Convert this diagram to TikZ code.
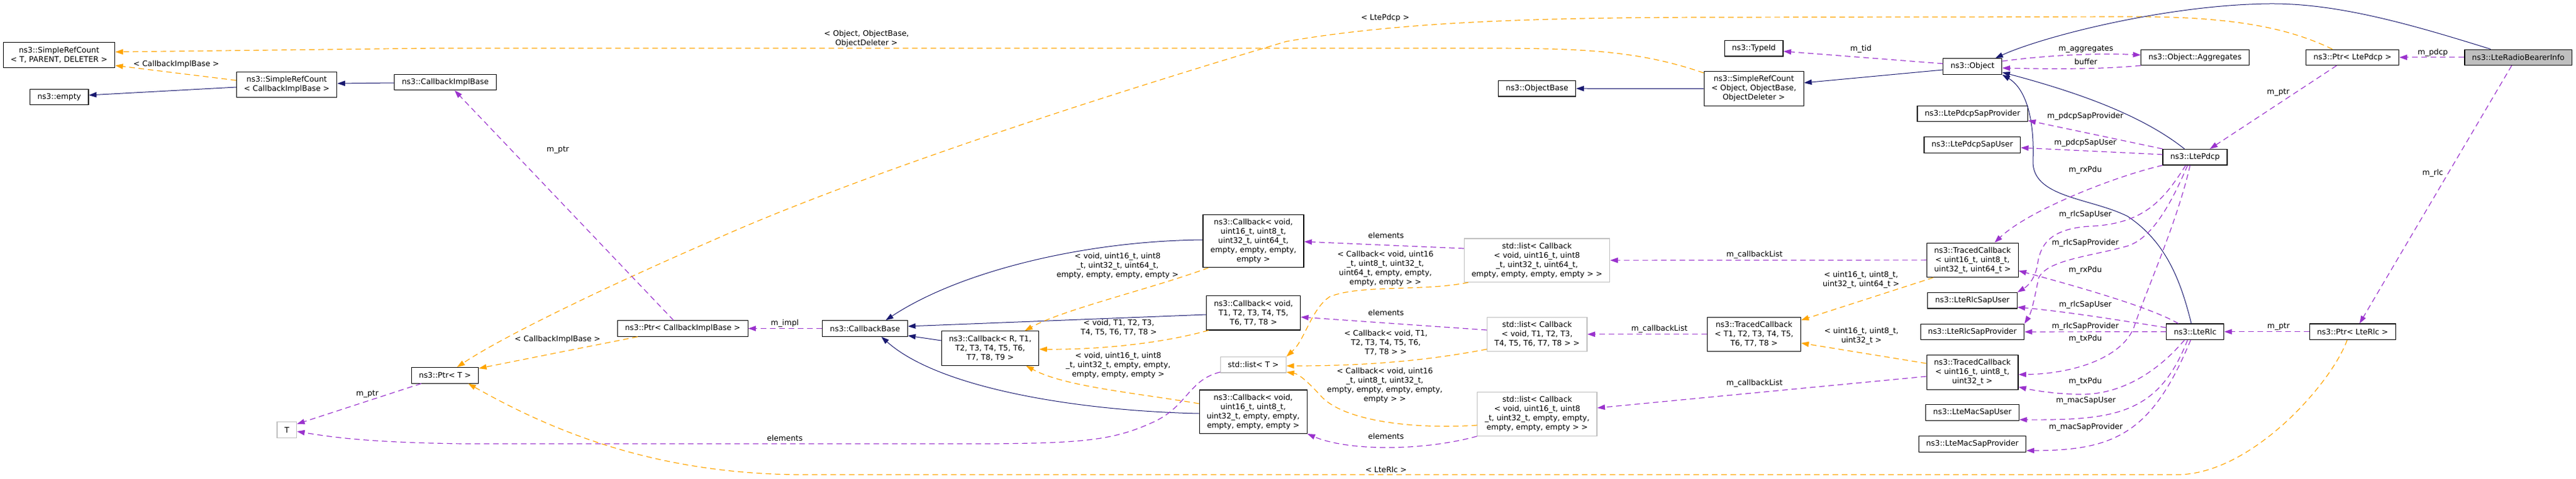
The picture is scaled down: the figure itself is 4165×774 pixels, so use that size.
\documentclass[tikz,border=0pt]{standalone}
\usepackage{fontspec}
\setmainfont{DejaVu Sans}
\usetikzlibrary{arrows.meta}
\definecolor{edgeblue}{RGB}{25,25,112}
\definecolor{edgepurple}{RGB}{154,50,205}
\definecolor{edgeorange}{RGB}{255,165,0}
\definecolor{boxgray}{RGB}{191,191,191}
\newcommand{\dotfont}{\fontsize{12.4}{15}\selectfont}

\begin{document}
\begin{tikzpicture}[x=1pt, y=-1pt,
  cls/.style={draw=black, line width=1.1pt, fill=white, align=center,
    inner xsep=12pt, inner ysep=2pt, font=\dotfont, minimum height={15pt*#1+10.5pt}},
  cls/.default=1,
  ext/.style={cls=#1, draw=boxgray},
  ext/.default=1,
  lbl/.style={font=\dotfont, align=center, inner sep=0pt},
  tip/.style={-{Triangle[length=12.5pt, width=8.5pt]}},
  inh/.style={tip, draw=edgeblue, line width=1pt},
  use/.style={tip, draw=edgepurple, line width=1.2pt, dash pattern=on 9pt off 6pt},
  tpl/.style={tip, draw=edgeorange, line width=1.2pt, dash pattern=on 9pt off 6pt}]

\useasboundingbox (0,0) rectangle (4165,774);

\node[cls=2] (srcT) at (95.5,88.8) {ns3::SimpleRefCount\\< T, PARENT, DELETER >};
\node[cls] (empty) at (95.8,156.8) {ns3::empty};
\node[cls=2] (srcCib) at (463.6,136.8) {ns3::SimpleRefCount\\< CallbackImplBase >};
\node[cls] (cbImpl) at (720,133) {ns3::CallbackImplBase};
\node[cls] (ptrT) at (719.5,607.3) {ns3::Ptr< T >};
\node[ext] (T) at (463.8,695.5) {T};
\node[cls] (ptrCib) at (1103.8,531.5) {ns3::Ptr< CallbackImplBase >};
\node[cls] (cbBase) at (1398.6,531.5) {ns3::CallbackBase};
\node[cls=3] (cbR) at (1601,563.5) {ns3::Callback< R, T1,\\ T2, T3, T4, T5, T6,\\ T7, T8, T9 >};
\node[cls=5] (cbA) at (2026.5,389.8) {ns3::Callback< void,\\ uint16\_t, uint8\_t,\\ uint32\_t, uint64\_t,\\ empty, empty, empty,\\ empty >};
\node[cls=3] (cbB) at (2026.7,506.2) {ns3::Callback< void,\\ T1, T2, T3, T4, T5,\\ T6, T7, T8 >};
\node[ext] (listT) at (2026.4,590.2) {std::list< T >};
\node[cls=4] (cbC) at (2026.2,666.2) {ns3::Callback< void,\\ uint16\_t, uint8\_t,\\ uint32\_t, empty, empty,\\ empty, empty, empty >};
\node[cls] (objBase) at (2485.2,143.2) {ns3::ObjectBase};
\node[ext=4] (listA) at (2485,421.2) {std::list< Callback\\< void, uint16\_t, uint8\\\_t, uint32\_t, uint64\_t,\\ empty, empty, empty, empty > >};
\node[ext=3] (listB) at (2485.2,540.8) {std::list< Callback\\< void, T1, T2, T3,\\ T4, T5, T6, T7, T8 > >};
\node[ext=4] (listC) at (2485.4,670) {std::list< Callback\\< void, uint16\_t, uint8\\\_t, uint32\_t, empty, empty,\\ empty, empty, empty > >};
\node[cls=3] (srcObj) at (2835.7,143.4) {ns3::SimpleRefCount\\< Object, ObjectBase,\\ ObjectDeleter >};
\node[cls] (typeId) at (2835.7,78.2) {ns3::TypeId};
\node[cls=3] (tcbT) at (2836,540.8) {ns3::TracedCallback\\< T1, T2, T3, T4, T5,\\ T6, T7, T8 >};
\node[cls] (object) at (3189.3,107.5) {ns3::Object};
\node[cls] (pdcpSapProv) at (3189.2,183.8) {ns3::LtePdcpSapProvider};
\node[cls] (pdcpSapUser) at (3188.8,234.3) {ns3::LtePdcpSapUser};
\node[cls=3] (tcbA) at (3189.2,420.8) {ns3::TracedCallback\\< uint16\_t, uint8\_t,\\ uint32\_t, uint64\_t >};
\node[cls] (rlcSapUser) at (3189,486.2) {ns3::LteRlcSapUser};
\node[cls] (rlcSapProv) at (3189,537) {ns3::LteRlcSapProvider};
\node[cls=3] (tcbC) at (3189,602.3) {ns3::TracedCallback\\< uint16\_t, uint8\_t,\\ uint32\_t >};
\node[cls] (macSapUser) at (3189,667.3) {ns3::LteMacSapUser};
\node[cls] (macSapProv) at (3189,718.3) {ns3::LteMacSapProvider};
\node[cls] (aggr) at (3549,92.8) {ns3::Object::Aggregates};
\node[cls] (pdcp) at (3549,254.2) {ns3::LtePdcp};
\node[cls] (rlc) at (3549.2,536.7) {ns3::LteRlc};
\node[cls] (ptrPdcp) at (3803.6,92.8) {ns3::Ptr< LtePdcp >};
\node[cls] (ptrRlc) at (3803.8,536.7) {ns3::Ptr< LteRlc >};
\node[cls, fill=boxgray] (info) at (4071.7,92.8) {ns3::LteRadioBearerInfo};

% edge labels
\node[lbl] (lSrcCib) at (285,104) {< CallbackImplBase >};
\node[lbl] (lSrcObj) at (1401,62.7) {< Object, ObjectBase,\\ ObjectDeleter >};
\node[lbl] (lPtrPdcp) at (2239.6,29.3) {< LtePdcp >};
\node[lbl] (lImplPtr) at (902,242.3) {m\_ptr};
\node[lbl] (lPtrCib) at (901.5,549.3) {< CallbackImplBase >};
\node[lbl] (lImpl) at (1269,523.3) {m\_impl};
\node[lbl] (lTPtr) at (593.8,637.7) {m\_ptr};
\node[lbl] (lElemT) at (1269,709.3) {elements};
\node[lbl] (lCbA) at (1807,430.3) {< void, uint16\_t, uint8\\\_t, uint32\_t, uint64\_t,\\ empty, empty, empty, empty >};
\node[lbl] (lCbB) at (1809,530.5) {< void, T1, T2, T3,\\T4, T5, T6, T7, T8 >};
\node[lbl] (lCbC) at (1808,591.3) {< void, uint16\_t, uint8\\\_t, uint32\_t, empty, empty,\\ empty, empty, empty >};
\node[lbl] (lElemA) at (2241,381) {elements};
\node[lbl] (lListA) at (2240,434.5) {< Callback< void, uint16\\\_t, uint8\_t, uint32\_t,\\ uint64\_t, empty, empty,\\ empty, empty > >};
\node[lbl] (lElemB) at (2241,505.7) {elements};
\node[lbl] (lListB) at (2240.7,554.8) {< Callback< void, T1,\\T2, T3, T4, T5, T6,\\ T7, T8 > >};
\node[lbl] (lListC) at (2239,624) {< Callback< void, uint16\\\_t, uint8\_t, uint32\_t,\\ empty, empty, empty, empty,\\ empty > >};
\node[lbl] (lElemC) at (2241,705.7) {elements};
\node[lbl] (lPtrRlc) at (2241,760) {< LteRlc >};
\node[lbl] (lCbListB) at (2683,532.3) {m\_callbackList};
\node[lbl] (lCbListA) at (2836.8,412.3) {m\_callbackList};
\node[lbl] (lCbListC) at (2836.8,620.7) {m\_callbackList};
\node[lbl] (lTcbA) at (3009,453.2) {< uint16\_t, uint8\_t,\\uint32\_t, uint64\_t >};
\node[lbl] (lTcbC) at (3009.6,544.2) {< uint16\_t, uint8\_t,\\uint32\_t >};
\node[lbl] (lTid) at (3008.7,79.7) {m\_tid};
\node[lbl] (lAggr) at (3372.5,80) {m\_aggregates};
\node[lbl] (lBuffer) at (3372.5,100) {buffer};
\node[lbl] (lPdcpProv) at (3371.6,188.7) {m\_pdcpSapProvider};
\node[lbl] (lPdcpUser) at (3371.6,231.3) {m\_pdcpSapUser};
\node[lbl] (lRxPdcp) at (3371.6,275.7) {m\_rxPdu};
\node[lbl] (lRlcUserPdcp) at (3371.6,347.7) {m\_rlcSapUser};
\node[lbl] (lRlcProvPdcp) at (3371.6,393.3) {m\_rlcSapProvider};
\node[lbl] (lRxRlc) at (3371.6,437.7) {m\_rxPdu};
\node[lbl] (lRlcUserRlc) at (3371.6,493.3) {m\_rlcSapUser};
\node[lbl] (lRlcProvRlc) at (3371.6,528.3) {m\_rlcSapProvider};
\node[lbl] (lTxPdcp) at (3371.6,548.3) {m\_txPdu};
\node[lbl] (lTxRlc) at (3371.6,617.3) {m\_txPdu};
\node[lbl] (lMacUser) at (3372.5,648.3) {m\_macSapUser};
\node[lbl] (lMacProv) at (3372.5,691) {m\_macSapProvider};
\node[lbl] (lPdcp) at (3933.4,85) {m\_pdcp};
\node[lbl] (lPdcpPtr) at (3683.5,150) {m\_ptr};
\node[lbl] (lRlc) at (3933.4,280) {m\_rlc};
\node[lbl] (lRlcPtr) at (3684,529) {m\_ptr};

% connectors
\draw[tpl] (srcCib.west |- 0,130) -- (srcT.east |- 0,106);
\draw[tpl] (srcObj.west |- 0,118) .. controls (2650,82) and (2560,78) .. (2400,78) -- (700,78) -- (srcT.east |- 0,84);
\draw[tpl] (ptrPdcp.north -| 3771,0) .. controls (3700,45) and (3610,27) .. (3450,27) -- (2780,28)
  .. controls (2450,28) and (2250,38) .. (2080,67) .. controls (1700,180) and (1350,300) .. (1150,390)
  .. controls (1000,455) and (820,540) .. (ptrT.north -| 739,0);
\draw[inh] (info.north -| 4027,0) .. controls (3900,40) and (3780,5) .. (3669,6) .. controls (3500,8) and (3300,60) .. (object.north -| 3226,0);
\draw[use] (object.west |- 0,103) -- (typeId.east |- 0,83);
\draw[inh] (object.west |- 0,113) -- (srcObj.east |- 0,134);
\draw[inh] (srcObj) -- (objBase);
\draw[use] (object.east |- 0,99) .. controls (3320,88) and (3400,86) .. (aggr.west |- 0,89);
\draw[use] (aggr.south west) .. controls (3400,112) and (3320,112) .. (object.east |- 0,110);
\draw[inh] (pdcp.north -| 3532,0) .. controls (3480,200) and (3400,160) .. (object.east |- 0,117);
\draw[inh] (rlc.north -| 3543,0) .. controls (3525,450) and (3500,390) .. (3440,350)
  .. controls (3380,320) and (3285,320) .. (3287,260) .. controls (3290,180) and (3270,140) .. (object.south east);

\draw[use] (pdcp.north west) -- (pdcpSapProv.east |- 0,195);
\draw[use] (pdcp.west |- 0,250) -- (pdcpSapUser.east |- 0,239);
\draw[use] (pdcp.south west) .. controls (3420,285) and (3280,340) .. (tcbA.north -| 3225,0);
\draw[use] (pdcp.south -| 3534,0) .. controls (3500,320) and (3470,362) .. (3380,366)
  .. controls (3310,370) and (3298,400) .. (3294,430) .. controls (3290,450) and (3280,462) .. (rlcSapUser.north east);
\draw[use] (pdcp.south -| 3537,0) .. controls (3510,330) and (3480,385) .. (3440,398)
  .. controls (3380,415) and (3310,420) .. (3296,450) .. controls (3290,480) and (3285,505) .. (rlcSapProv.north east);
\draw[use] (pdcp.south -| 3541,0) .. controls (3520,360) and (3470,470) .. (3450,530)
  .. controls (3430,580) and (3350,605) .. (tcbC.east |- 0,606);

\draw[use] (rlc.north -| 3522,0) .. controls (3490,505) and (3420,480) .. (tcbA.east |- 0,438);
\draw[use] (rlc.west |- 0,530) .. controls (3450,522) and (3350,505) .. (rlcSapUser.east |- 0,497);
\draw[use] (rlc) -- (rlcSapProv);
\draw[use] (rlc.south -| 3532,0) .. controls (3490,600) and (3430,640) .. (3360,638)
  .. controls (3320,637) and (3290,632) .. (tcbC.east |- 0,626);
\draw[use] (rlc.south -| 3537,0) .. controls (3490,670) and (3420,680) .. (macSapUser.east |- 0,679);
\draw[use] (rlc.south -| 3542,0) .. controls (3480,700) and (3420,729) .. (macSapProv.east |- 0,729);

\draw[use] (tcbA) -- (listA);
\draw[tpl] (tcbA.south -| 3126,0) -- (tcbT.east |- 0,518);
\draw[tpl] (tcbC.west |- 0,588) -- (tcbT.east |- 0,555);
\draw[use] (tcbT) -- (listB);
\draw[use] (tcbC.west |- 0,609) -- (listC.east |- 0,660);

\draw[use] (listA.west |- 0,402) -- (cbA.east |- 0,391);
\draw[tpl] (listA.south -| 2374,0) .. controls (2300,472) and (2200,460) .. (2150,480)
  .. controls (2120,500) and (2110,550) .. (listT.north east);
\draw[use] (listB.west |- 0,534) -- (cbB.east |- 0,513);
\draw[tpl] (listB.west |- 0,565) .. controls (2300,585) and (2200,592) .. (listT.east |- 0,592);
\draw[tpl] (listC.west |- 0,688) .. controls (2280,695) and (2170,680) .. (2135,640)
  .. controls (2115,618) and (2100,605) .. (listT.east |- 0,602);
\draw[use] (listC.south west) .. controls (2300,730) and (2180,730) .. (cbC.south east);

\draw[inh] (cbA.west |- 0,388) .. controls (1750,390) and (1550,440) .. (cbBase.north -| 1432,0);
\draw[inh] (cbB.west |- 0,509) -- (cbBase.east |- 0,528);
\draw[inh] (cbR.west |- 0,551) -- (cbBase.east |- 0,543);
\draw[inh] (cbC.west |- 0,669) .. controls (1750,665) and (1520,630) .. (cbBase.south -| 1425,0);
\draw[tpl] (cbA.south -| 1954,0) .. controls (1870,465) and (1720,500) .. (cbR.north -| 1657,0);
\draw[tpl] (cbB.south -| 1954,0) .. controls (1880,555) and (1780,566) .. (cbR.east |- 0,565);
\draw[tpl] (cbC.west |- 0,653) .. controls (1830,635) and (1720,625) .. (cbR.south -| 1659,0);

\draw[use] (listT.west |- 0,602) .. controls (1920,615) and (1920,660) .. (1860,685)
  .. controls (1800,712) and (1750,717) .. (1600,718) -- (750,718)
  .. controls (600,716) and (540,708) .. (T.east |- 0,698);
\draw[use] (ptrT.south -| 681,0) -- (T.east |- 0,686);
\draw[tpl] (ptrCib.south -| 1031,0) -- (ptrT.east |- 0,596);
\draw[use] (ptrCib.north -| 1089,0) -- (cbImpl.south -| 735,0);
\draw[use] (cbBase) -- (ptrCib);
\draw[inh] (cbImpl.west |- 0,134) -- (srcCib.east |- 0,135);
\draw[inh] (srcCib.west |- 0,141) -- (empty.east |- 0,154);
\draw[tpl] (ptrRlc.south -| 3795,0) .. controls (3770,620) and (3640,768) .. (3520,768) -- (1300,768)
  .. controls (1050,768) and (880,690) .. (ptrT.south -| 757,0);

\draw[use] (info) -- (ptrPdcp);
\draw[use] (ptrPdcp.south -| 3778,0) -- (pdcp.north -| 3573,0);
\draw[use] (info.south -| 4061,0) -- (ptrRlc.north -| 3815,0);
\draw[use] (ptrRlc) -- (rlc);

\end{tikzpicture}
\end{document}
